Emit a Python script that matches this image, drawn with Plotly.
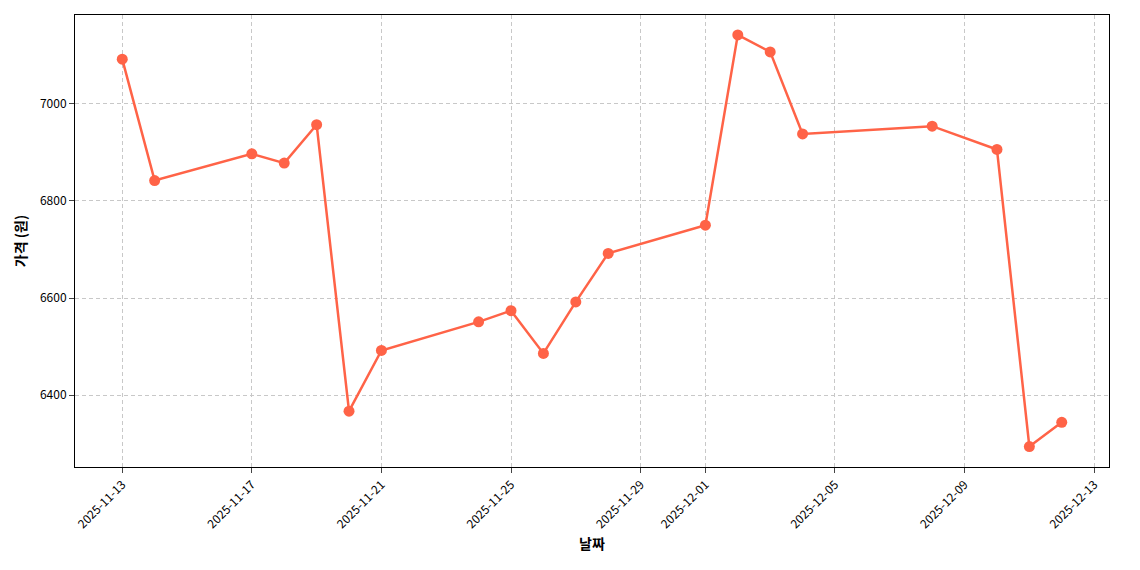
import plotly.graph_objects as go

dates = ["2025-11-13","2025-11-14","2025-11-17","2025-11-18","2025-11-19","2025-11-20","2025-11-21",
         "2025-11-24","2025-11-25","2025-11-26","2025-11-27","2025-11-28","2025-12-01","2025-12-02",
         "2025-12-03","2025-12-04","2025-12-08","2025-12-10","2025-12-11","2025-12-12"]
prices = [7092,6842,6897,6878,6957,6367,6492,6551,6574,6486,6592,6692,6750,7142,7107,6938,6954,6906,6294,6344]
tick_dates = ["2025-11-13","2025-11-17","2025-11-21","2025-11-25","2025-11-29","2025-12-01","2025-12-05","2025-12-09","2025-12-13"]

fig = go.Figure(go.Scatter(x=dates, y=prices, mode="lines+markers",
    line=dict(color="#FF6347", width=2.5), marker=dict(color="#FF6347", size=11)))
font = "Noto Sans CJK KR"
fig.update_layout(width=1140, height=570, plot_bgcolor="white", paper_bgcolor="white",
    margin=dict(l=67, r=39, t=7, b=111), showlegend=False,
    font=dict(family=font, size=12, color="black"))
fig.update_xaxes(range=["2025-11-11 13:00","2025-12-13 11:00"], tickvals=tick_dates, ticktext=tick_dates,
    tickangle=-45, showgrid=True, gridcolor="#c8c8c8", griddash="4px,3px", showline=True, mirror=True,
    linecolor="black", ticks="outside", zeroline=False,
    title=dict(text="<b>날짜</b>", font=dict(size=14), standoff=8))
fig.update_yaxes(range=[6252,7183], tickvals=[6400,6600,6800,7000], showgrid=True, gridcolor="#c8c8c8",
    griddash="4px,3px", showline=True, mirror=True, linecolor="black", ticks="outside", zeroline=False,
    title=dict(text="<b>가격 (원)</b>", font=dict(size=14), standoff=10))
fig.write_html("out.html")
